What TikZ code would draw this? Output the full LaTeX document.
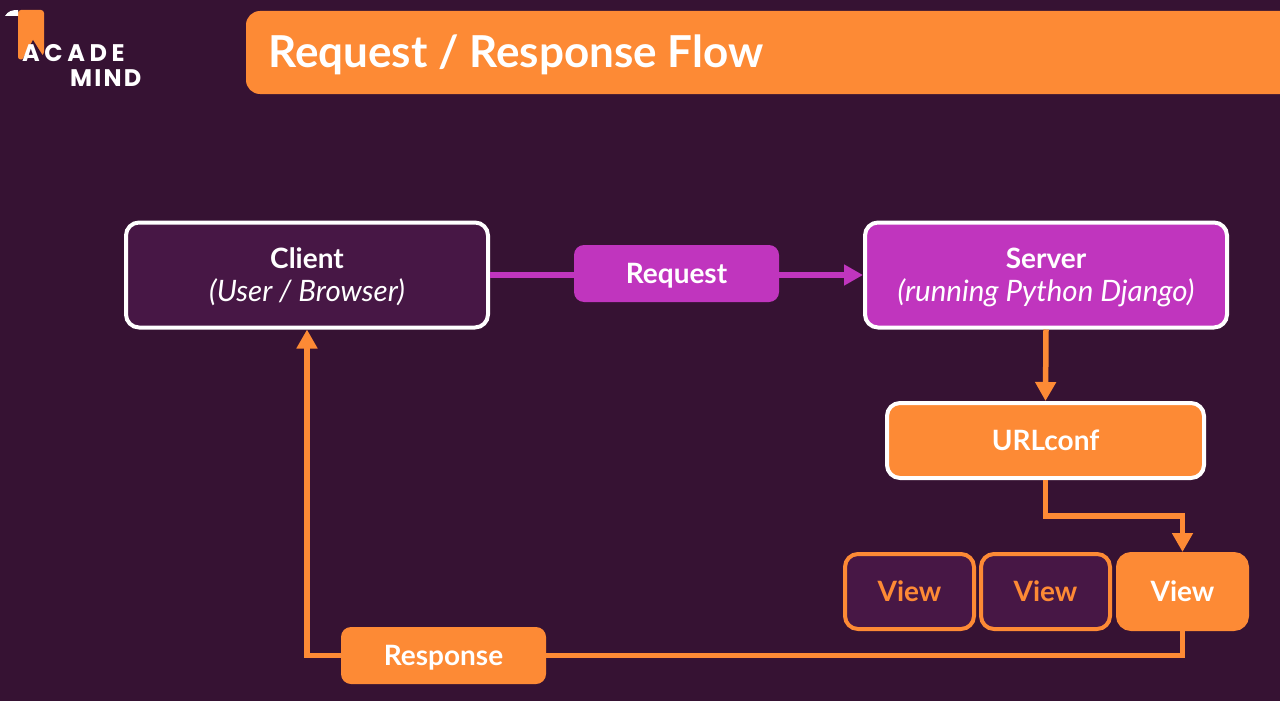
\documentclass[tikz,border=0pt]{standalone}
\usepackage{fontspec}
\setmainfont{Lato}
\newfontfamily\logofont[LetterSpace=9]{Poppins}
\usetikzlibrary{arrows.meta}
\definecolor{bgdark}{HTML}{361233}
\definecolor{boxdark}{HTML}{471745}
\definecolor{acorange}{HTML}{FD8A35}
\definecolor{acpurple}{HTML}{C035BE}
\begin{document}
\begin{tikzpicture}[x=1pt, y=-1pt,
    box/.style={rectangle, rounded corners=13pt, line width=4pt, align=center, text depth=0pt,
      text=white, font=\fontsize{28}{33}\selectfont\bfseries},
    tag/.style={box, draw=none, outer sep=0pt, minimum width=205pt, minimum height=57pt, rounded corners=10pt},
    viewbox/.style={box, minimum width=129pt, minimum height=75pt},
    logotext/.style={anchor=base west, inner sep=0pt, text=white, font=\fontsize{24}{24}\logofont\bfseries},
    link/.style={line width=5.5pt, draw=acorange},
    >={Triangle[width=20pt,length=19pt]}]
    \useasboundingbox (0,0) rectangle (1280,701);
    \fill[bgdark] (0,0) rectangle (1280,701);
    % header
    \fill[acorange, rounded corners=14pt] (1280,11) -- (246,11) -- (246,94) [sharp corners] -- (1280,94) -- cycle;
    \node[anchor=base west, inner sep=0pt, text=white, font=\fontsize{44}{50}\selectfont\bfseries] (title) at (268,67) {Request / Response Flow};
    % logo
    \fill[acorange, rounded corners=3pt] (18,10) -- (44,10) -- (44,55) -- (18,60) -- cycle;
    \fill[white] (5,16) .. controls (8,11) and (12,10) .. (18,10) -- (18,16) -- cycle;
    \fill[bgdark] (33,40) -- (48,64) -- (20,64) -- cycle;
    \node[logotext] (acade) at (22,62) {\addfontfeature{LetterSpace=19}ACADE};
    \node[logotext] (mind) at (70,87) {MIND};
    % boxes
    \node[box, draw=white, fill=boxdark, minimum width=362pt, minimum height=105pt] (client) at (307,275) {Client\\{\itshape\mdseries\fontsize{29.5}{33}\selectfont (User / Browser)}};
    \node[box, draw=white, fill=acpurple, minimum width=362pt, minimum height=105pt] (server) at (1046,275) {Server\\{\itshape\mdseries\fontsize{29.5}{33}\selectfont (running Python Django)}};
    \node[box, draw=white, fill=acorange, minimum width=317pt, minimum height=75pt] (urlconf) at (1045.5,440.5) {URLconf};
    \node[viewbox, draw=acorange, fill=boxdark, text=acorange] (viewa) at (909.5,591.5) {View};
    \node[viewbox, draw=acorange, fill=boxdark, text=acorange] (viewb) at (1045.5,591.5) {View};
    \node[viewbox, draw=acorange, fill=acorange] (viewc) at (1182.5,591.5) {View};
    \node[tag, fill=acpurple] (request) at (676.5,273.5) {Request};
    \node[tag, fill=acorange] (response) at (443.5,655.5) {Response};
    % connectors
    \draw[link, draw=acpurple] (client.east) -- (request.west |- client.east);
    \draw[link, draw=acpurple, ->] (request.east |- server.west) -- (server.west);
    \draw[link, ->] (server.south) -- (urlconf.north);
    \draw[link, ->] (urlconf.south) |- (1182.5,516) -- (viewc.north);
    \draw[link] (viewc.south) |- (response.east);
    \draw[link, ->] (response.west) -| (client.south);
\end{tikzpicture}
\end{document}
